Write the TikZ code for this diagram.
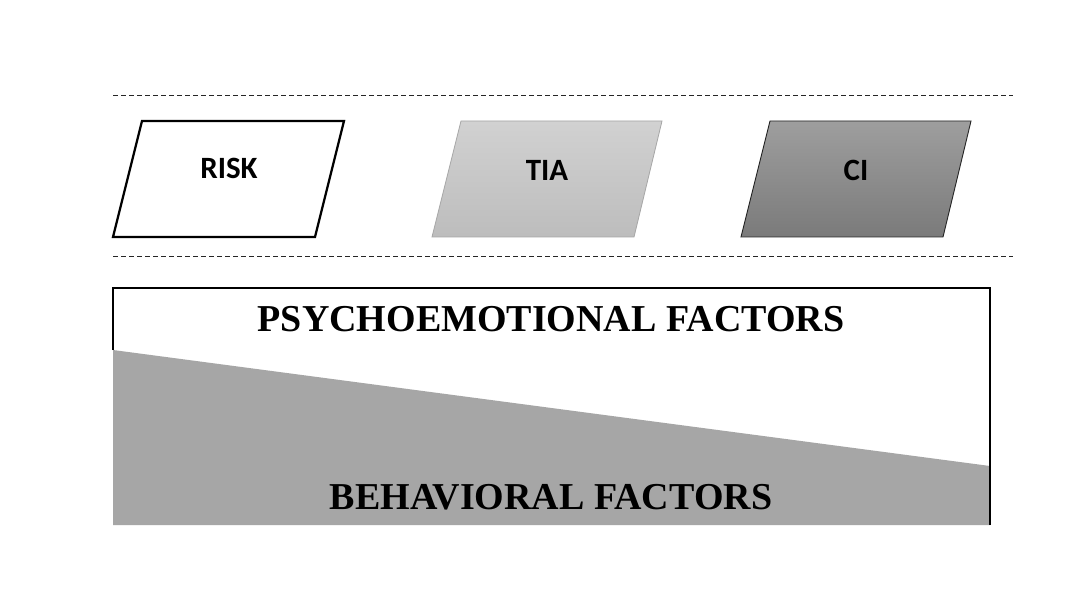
\documentclass[tikz,border=0pt]{standalone}
\usepackage{fontspec}
\setmainfont{Liberation Serif}
\newfontfamily\calib{Carlito}
\tikzset{
  dashline/.style={dash pattern=on 5pt off 3pt, line width=1pt, black!85},
  lbl/.style={font=\calib\bfseries\fontsize{31}{36}\selectfont, inner sep=0pt},
  big/.style={font=\bfseries\fontsize{38}{43}\selectfont, inner sep=0pt}
}
\begin{document}
\begin{tikzpicture}[x=1pt,y=-1pt]
\useasboundingbox (0,0) rectangle (1086,612);
\fill[white] (0,0) rectangle (1086,612);
% dashed lines
\coordinate (d1a) at (113,96); \coordinate (d1b) at (1013,96);
\coordinate (d2a) at (113,257); \coordinate (d2b) at (1013,257);
\draw[dashline] (d1a) -- (d1b);
\draw[dashline] (d2a) -- (d2b);
% RISK
\draw[line width=2.2pt, fill=white, line join=miter] (113,237) -- (142,121) -- (344,121) -- (315,237) -- cycle;
\node[lbl] (risk) at (229,168) {RISK};
% TIA
\shade[top color=black!18, bottom color=black!26] (432,237) -- (461,121) -- (662,121) -- (634,237) -- cycle;
\draw[black!35, line width=0.8pt] (432,237) -- (461,121) -- (662,121) -- (634,237) -- cycle;
\node[lbl] (tia) at (547,170) {TIA};
% CI
\shade[top color=black!38, bottom color=black!52] (741,237) -- (770,121) -- (971,121) -- (943,237) -- cycle;
\draw[black!85, line width=0.9pt] (741,237) -- (770,121) -- (971,121) -- (943,237) -- cycle;
\node[lbl] (ci) at (856,170) {CI};
% big box
\fill[black!35] (113,350) -- (990,466) -- (990,525) -- (113,525) -- cycle;
\draw[line width=1.3pt] (113,350) -- (113,288) -- (990,288) -- (990,525);
\node[big] (psy) at (551,319) {PSYCHOEMOTIONAL FACTORS};
\node[big] (beh) at (551,497) {BEHAVIORAL FACTORS};
\end{tikzpicture}
\end{document}
